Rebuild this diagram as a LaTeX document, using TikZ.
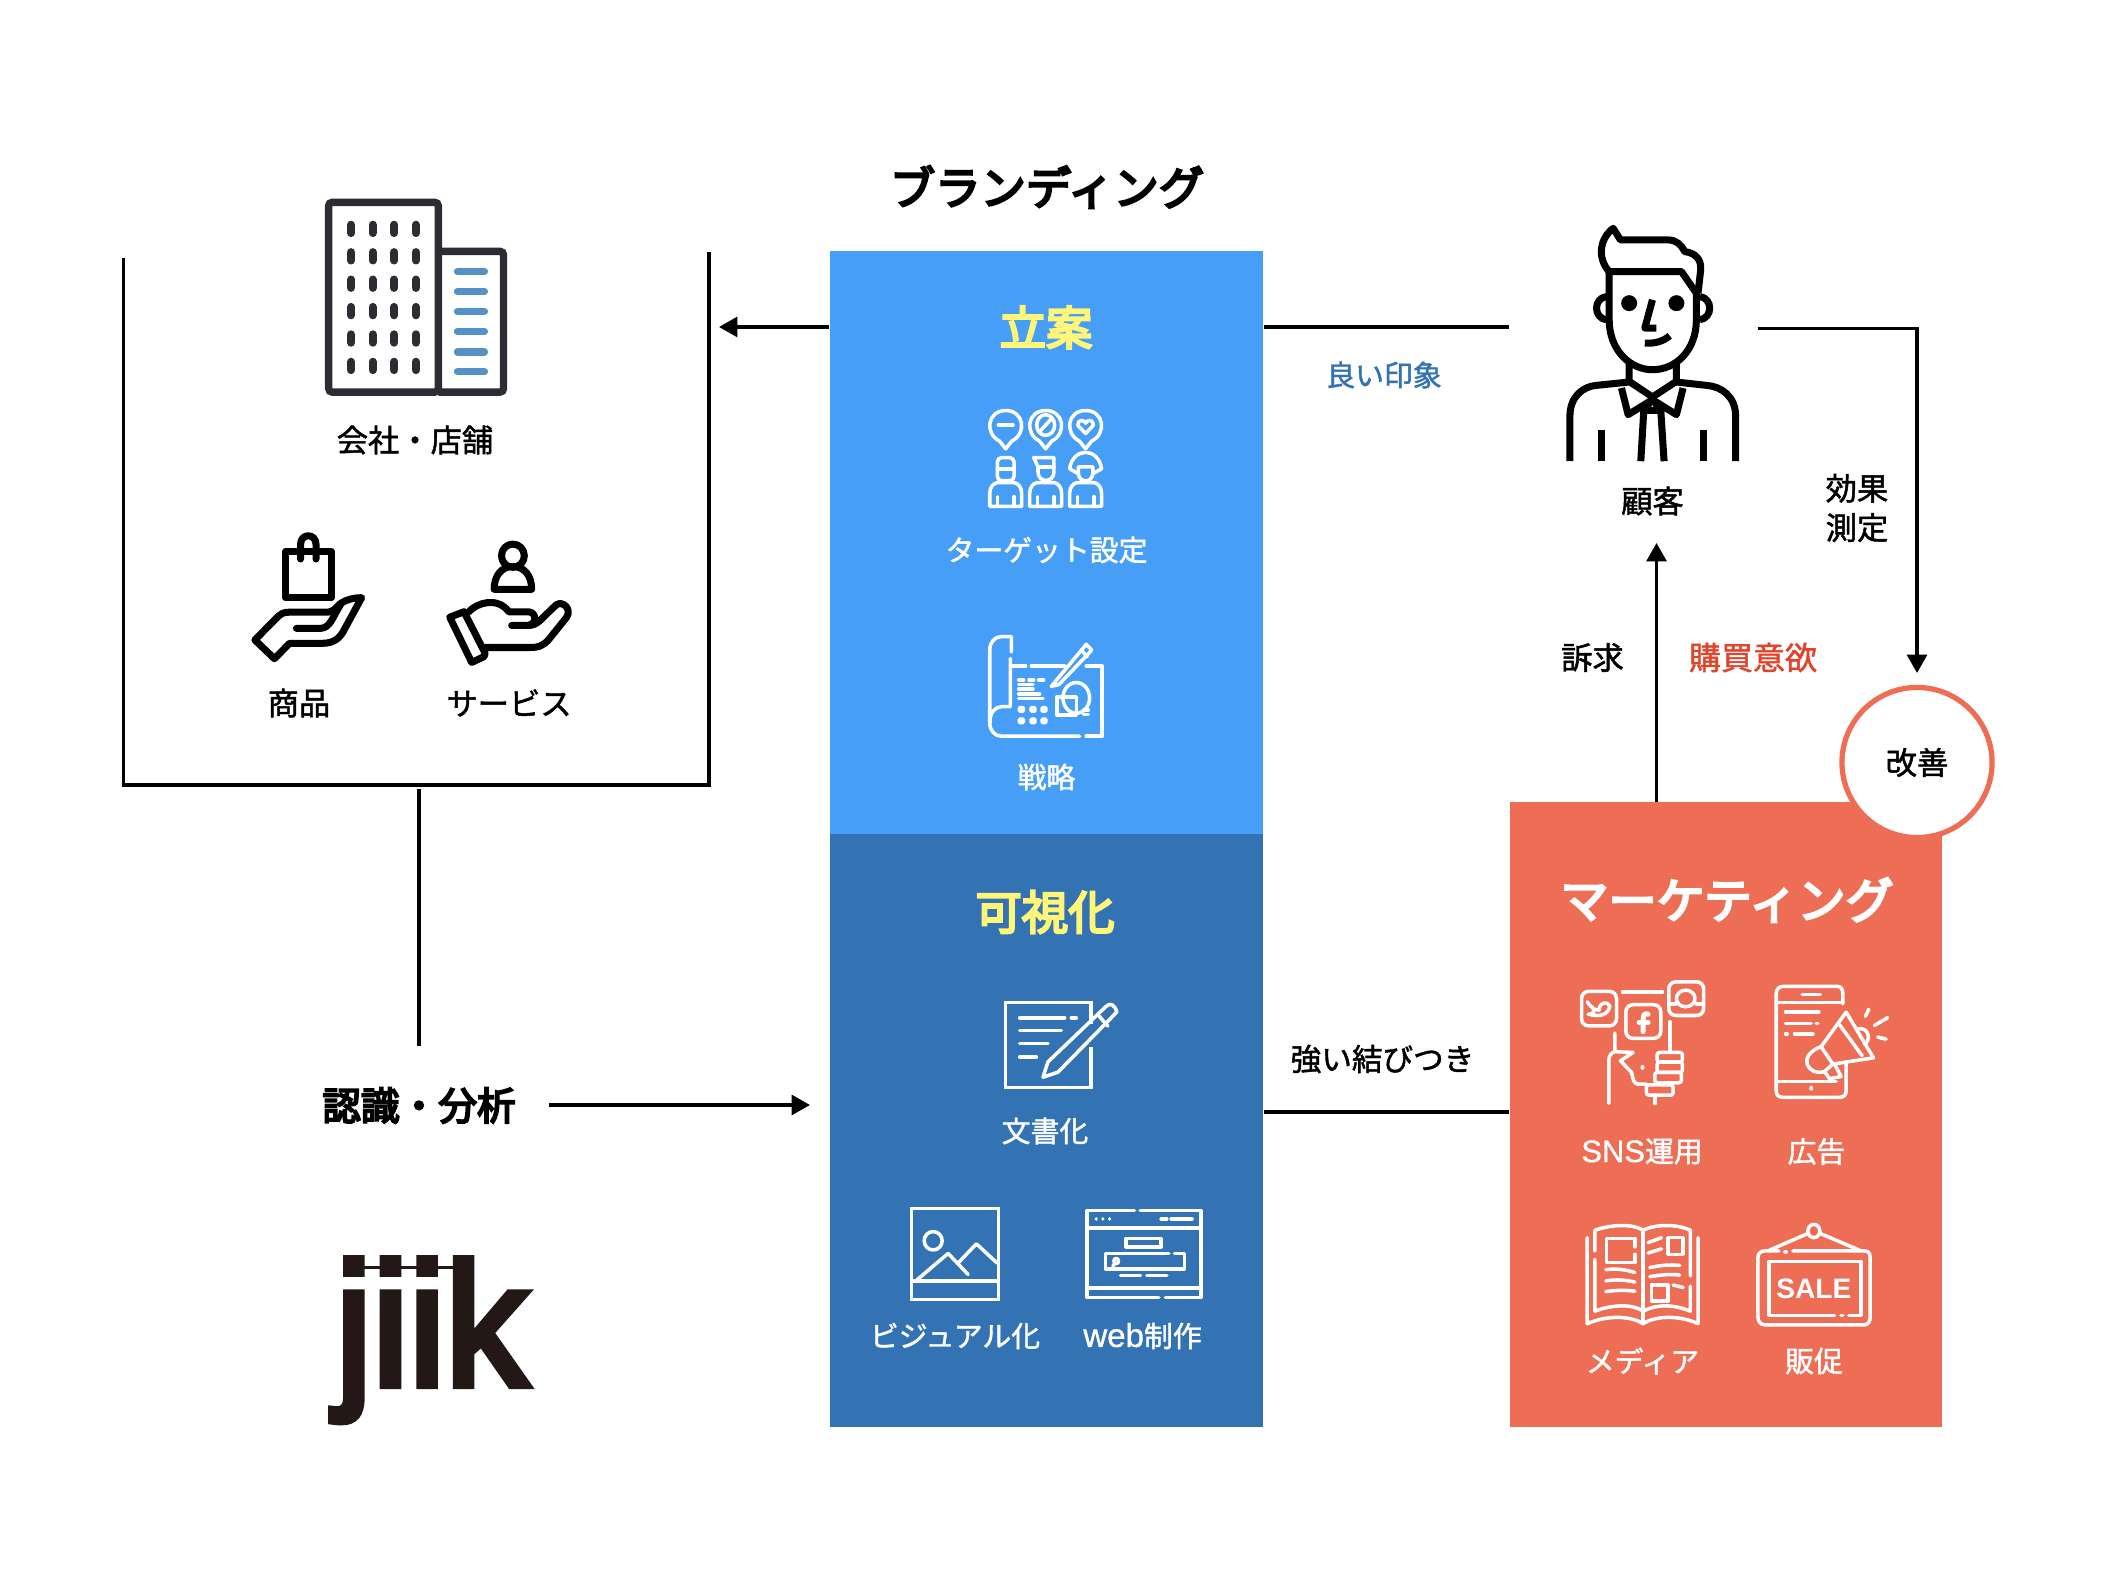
\documentclass[tikz,border=0pt]{standalone}
\usepackage{fontspec}
\setmainfont[FakeBold=1.5]{Noto Sans CJK JP}
\newfontfamily\titlefont[FakeBold=5]{Noto Sans CJK JP}
\newfontfamily\logofont[FakeBold=4,FakeStretch=0.94]{Liberation Sans}
\newfontfamily\signfont{Liberation Sans}
\newfontfamily\latinfont[FakeBold=1]{Liberation Sans}
\usetikzlibrary{arrows.meta}
\definecolor{planblue}{HTML}{479EF7}
\definecolor{showblue}{HTML}{3373B4}
\definecolor{marketred}{HTML}{ED6D55}
\definecolor{headyellow}{HTML}{FFF578}
\definecolor{wantred}{HTML}{E2432B}
\definecolor{barblue}{HTML}{5690C8}
\definecolor{towergray}{HTML}{2C2D33}
\definecolor{logoblack}{HTML}{231815}
\tikzset{
  bandbox/.style={rectangle, inner sep=0pt, draw=none, minimum width=4.33cm},
  bigtitle/.style={font=\fontsize{13.2}{15}\selectfont\titlefont},
  smalltext/.style={font=\fontsize{8.2}{10}\selectfont, text=white},
  blacktext/.style={font=\fontsize{8.9}{11.2}\selectfont, text=black, align=center},
  conn/.style={line width=1pt, draw=black},
  connarrow/.style={conn, -{Triangle[length=5.2pt,width=5.6pt]}},
  iconwhite/.style={draw=white, line width=1pt, line cap=round, line join=round},
  iconblack/.style={draw=black, line width=2pt, line join=round},
  zonea/.style={shift={(100,150)}, x=0.0040816cm, y=-0.004146cm},
  zoneb/.style={shift={(820,240)}, x=0.003333cm, y=-0.003827cm},
  zonec/.style={shift={(820,830)}, x=0.003333cm, y=-0.003827cm},
  zoned/.style={shift={(1500,790)}, x=0.003333cm, y=-0.004146cm},
  zonee/.style={shift={(1500,200)}, x=0.003333cm, y=-0.003333cm}
}
\begin{document}
\begin{tikzpicture}[x=0.01cm, y=-0.01cm]
\useasboundingbox (0,0) rectangle (2113,1583);
\fill[white] (0,0) rectangle (2113,1583);

\node[bandbox, fill=planblue, minimum height=5.83cm] (plan) at (1046.5,542.5) {};
\node[bandbox, fill=showblue, minimum height=5.93cm] (show) at (1046.5,1130.5) {};
\node[bandbox, fill=marketred, minimum width=4.32cm, minimum height=6.25cm] (market) at (1726,1114.5) {};
\node[circle, draw=marketred, line width=1.5pt, fill=white, minimum size=1.5cm, inner sep=0pt, font=\fontsize{8.9}{11}\selectfont] (improve) at (1917,762.5) {\raisebox{-2.2pt}{改善}};

\node[font=\fontsize{12.9}{15}\selectfont\titlefont] (branding) at (1047,187) {ブランディング};
\node[bigtitle, text=headyellow] (plantitle) at (1046,327.5) {立案};
\node[bigtitle, text=headyellow] (showtitle) at (1045,912) {可視化};
\node[bigtitle, text=white, font=\fontsize{13.7}{15}\selectfont\titlefont] (markettitle) at (1727,900) {マーケティング};

\node[smalltext] (target) at (1046.5,550) {ターゲット設定};
\node[smalltext] (strategy) at (1046.5,777) {戦略};
\node[smalltext] (docs) at (1045,1131) {文書化};
\node[smalltext] (visual) at (955,1336) {ビジュアル化};
\node[smalltext] (webmake) at (1142.5,1336) {{\latinfont\fontsize{9.4}{10}\selectfont web}制作};
\node[smalltext] (sns) at (1642,1151.5) {{\latinfont\fontsize{8.8}{10}\selectfont SNS}運用};
\node[smalltext] (ads) at (1816.5,1151.5) {広告};
\node[smalltext] (media) at (1642.5,1361) {メディア};
\node[smalltext] (promo) at (1814,1361) {販促};

\node[blacktext] (company) at (415,440) {会社・店舗};
\node[blacktext] (goods) at (299,703) {商品};
\node[blacktext] (service) at (509,703) {サービス};
\node[blacktext] (customer) at (1652.5,501) {顧客};
\node[blacktext] (measure) at (1857,508) {効果\\測定};
\node[blacktext] (appeal) at (1592.5,657.5) {訴求};
\node[blacktext, text=wantred, font=\fontsize{9.1}{11}\selectfont] (desire) at (1753,657.5) {購買意欲};
\node[blacktext, font=\fontsize{8.7}{11}\selectfont] (bond) at (1382.5,1059) {強い結びつき};
\node[blacktext, text=showblue, font=\fontsize{8.2}{10}\selectfont] (impression) at (1384,375) {良い印象};
\node[font=\fontsize{11}{13}\selectfont\titlefont] (analysis) at (419,1105.5) {認識・分析};

\coordinate (framenw) at (123.7,258);
\coordinate (framesw) at (123.7,785);
\coordinate (framese) at (709,785);
\coordinate (framene) at (709,252);
\coordinate (framefoot) at (419,789);
\coordinate (framearrow) at (719,327);
\coordinate (analysistop) at (419,1046);
\coordinate (analysisout) at (548.5,1105);
\coordinate (showarrow) at (810,1105);
\coordinate (personleft) at (1509,327);
\coordinate (personright) at (1757.5,328.5);
\coordinate (turn) at (1917,328.5);
\coordinate (improvetop) at (1917,673);
\coordinate (personfoot) at (1656.5,543);
\coordinate (marketup) at (1656.5,802);
\coordinate (marketleft) at (1509,1112);

\draw[conn, line width=1pt] (framenw) -- (framesw) -- (framese) -- (framene);
\draw[connarrow] (plan.west |- framearrow) -- (framearrow);
\draw[conn] (plan.east |- personleft) -- (personleft);
\draw[connarrow] (personright) -- (turn) -- (improvetop);
\draw[connarrow] (marketup) -- (personfoot);
\draw[conn] (framefoot) -- (analysistop);
\draw[connarrow] (analysisout) -- (showarrow);
\draw[conn] (show.east |- marketleft) -- (marketleft);

\begin{scope}[zonea]
  \draw[towergray, line width=2.1pt, rounded corners=1pt] (561,126) rectangle (830,583);
  \draw[towergray, line width=2.1pt, rounded corners=1pt] (830,244) -- (990,244) -- (990,583) -- (830,583);
  \foreach \wx in {616,669,722,775}
    \foreach \wy in {190,256,322,388,454,520}
      \draw[towergray, line width=2.3pt, line cap=round] (\wx,\wy-10) -- (\wx,\wy+10);
  \foreach \wy in {293,341,389,437,486,534}
    \draw[barblue, line width=2.1pt, line cap=round] (877,\wy) -- (943,\wy);
  \draw[iconblack] (455,967) rectangle (568,1078);
  \draw[iconblack, line cap=round] (492,985) -- (492,950) .. controls (492,922) and (530,922) .. (530,950) -- (530,985);
  \draw[iconblack] (380,1180) -- (430,1130) .. controls (445,1115) and (450,1113) .. (465,1113) -- (555,1113) .. controls (575,1113) and (580,1100) .. (590,1092) .. controls (605,1082) and (625,1078) .. (642,1078) -- (602,1150) .. controls (590,1175) and (575,1188) .. (545,1188) -- (465,1188) -- (428,1225) -- cycle;
  \draw[iconblack, line cap=round] (482,1152) -- (540,1152) .. controls (565,1152) and (570,1125) .. (590,1095);
  \draw[iconblack] (1013,977) circle[x radius=28, y radius=28];
  \draw[iconblack] (967,1058) .. controls (967,1025) and (985,1003) .. (1013,1003) .. controls (1041,1003) and (1059,1025) .. (1059,1058) -- cycle;
  \draw[iconblack] (858,1125) -- (893,1112) -- (945,1212) -- (942,1220) -- (912,1234) -- cycle;
  \draw[iconblack, line cap=round] (905,1112) .. controls (925,1090) and (975,1075) .. (1003,1112) -- (1050,1112) .. controls (1070,1112) and (1075,1140) .. (1050,1145) -- (1010,1145);
  \draw[iconblack, line cap=round] (1050,1145) .. controls (1075,1145) and (1080,1130) .. (1120,1095) .. controls (1135,1085) and (1158,1105) .. (1145,1125) -- (1100,1180) .. controls (1085,1195) and (1075,1198) .. (1055,1198) -- (945,1198);
\end{scope}

\begin{scope}[zonee]
  \draw[iconblack] (328,215) -- (328,360) .. controls (328,450) and (390,510) .. (458,510) .. controls (530,510) and (590,450) .. (590,360) -- (590,265);
  \draw[iconblack] (328,215) .. controls (295,180) and (295,120) .. (340,85) -- (362,120) -- (505,120) .. controls (530,120) and (545,135) .. (555,155) .. controls (590,160) and (605,180) .. (603,210) -- (595,280);
  \draw[iconblack] (328,215) -- (545,215) -- (590,280);
  \draw[iconblack] (320,290) .. controls (280,295) and (280,355) .. (320,360);
  \draw[iconblack] (600,290) .. controls (640,295) and (640,355) .. (600,360);
  \fill (388,310) circle[radius=24];
  \fill (530,310) circle[radius=24];
  \draw[iconblack] (458,300) -- (435,385) -- (470,385);
  \draw[iconblack] (435,430) .. controls (465,432) and (490,425) .. (510,408);
  \draw[iconblack] (388,490) -- (388,545) -- (458,592) -- (530,545) -- (530,490);
  \draw[iconblack] (210,785) -- (210,650) .. controls (210,590) and (250,560) .. (290,557) -- (388,547);
  \draw[iconblack] (708,785) -- (708,650) .. controls (708,590) and (665,560) .. (620,557) -- (530,547);
  \draw[iconblack] (365,565) -- (385,645) -- (458,600) -- (530,645) -- (550,565);
  \draw[iconblack] (458,600) -- (430,632) -- (485,632) -- (458,600);
  \draw[iconblack] (432,632) -- (423,785);
  \draw[iconblack] (483,632) -- (493,785);
  \draw[iconblack] (304,690) -- (304,785);
  \draw[iconblack] (612,690) -- (612,785);
\end{scope}

\begin{scope}[zoneb]
  \foreach \px in {558,678,798} {
    \draw[iconwhite] (\px-18,525) .. controls (\px-65,505) and (\px-55,445) .. (\px,445) .. controls (\px+55,445) and (\px+65,505) .. (\px+18,525) -- (\px,545) -- cycle;
    \draw[iconwhite] (\px-48,695) -- (\px-48,662) .. controls (\px-48,645) and (\px-38,635) .. (\px-25,633) -- (\px+25,633) .. controls (\px+38,635) and (\px+48,645) .. (\px+48,662) -- (\px+48,695) -- cycle;
    \draw[iconwhite] (\px-25,670) -- (\px-25,695);
    \draw[iconwhite] (\px+25,670) -- (\px+25,695);
  }
  \draw[iconwhite] (536,483) -- (580,483);
  \draw[iconwhite] (678,483) circle[x radius=27, y radius=27];
  \draw[iconwhite] (662,498) -- (694,468);
  \draw[iconwhite] (798,505) -- (775,484) .. controls (775,465) and (795,470) .. (798,478) .. controls (801,470) and (821,465) .. (821,484) -- cycle;
  \draw[iconwhite, rounded corners=1.2pt] (533,568) rectangle (583,628);
  \draw[iconwhite] (533,597) -- (583,597);
  \draw[iconwhite] (642,568) -- (703,568) -- (703,605) .. controls (703,635) and (655,635) .. (655,605) -- (655,592) -- cycle;
  \draw[iconwhite] (655,592) -- (703,592);
  \draw[iconwhite] (750,597) .. controls (760,540) and (836,540) .. (846,597) -- (820,610) -- (820,592) -- (776,592) -- (776,610) -- cycle;
  \draw[iconwhite] (776,610) .. controls (780,635) and (816,635) .. (820,610);

  \draw[iconwhite] (575,1075) -- (575,1035) -- (545,1035) .. controls (525,1035) and (510,1050) .. (510,1070) -- (510,1260) .. controls (510,1280) and (525,1295) .. (545,1295) -- (780,1295);
  \draw[iconwhite] (800,1295) -- (848,1295) -- (848,1112) -- (800,1112);
  \draw[iconwhite] (575,1112) -- (618,1112);
  \draw[iconwhite] (635,1112) -- (735,1112);
  \draw[iconwhite] (572,1092) -- (572,1218) -- (545,1218) .. controls (525,1218) and (510,1235) .. (510,1260);
  \draw[iconwhite] (695,1165) -- (800,1055) -- (817,1070) -- (718,1160) -- (695,1165);
  \draw[iconwhite] (785,1070) -- (803,1088);
  \draw[iconwhite] (597,1148) -- (612,1148);
  \draw[iconwhite] (628,1148) -- (642,1148);
  \draw[iconwhite] (657,1148) -- (672,1148);
  \draw[iconwhite] (597,1160) -- (640,1160);
  \draw[iconwhite] (597,1172) -- (640,1172);
  \draw[iconwhite] (597,1185) -- (660,1185);
  \draw[iconwhite] (597,1197) -- (670,1197);
  \foreach \gx in {605,640,673}
    \foreach \gy in {1225,1255}
      \fill[white, rounded corners=0.5pt] (\gx-11,\gy-9) rectangle (\gx+11,\gy+9);
  \draw[iconwhite] (712,1192) rectangle (770,1240);
  \draw[iconwhite] (770,1195) circle[x radius=40, y radius=40];
  \draw[iconwhite] (792,1227) -- (806,1227);
  \draw[iconwhite] (792,1238) -- (806,1238);
\end{scope}

\begin{scope}[zonec]
  \draw[iconwhite, line cap=butt, line join=miter] (815,505) -- (815,450) -- (558,450) -- (558,672) -- (815,672) -- (815,565);
  \draw[iconwhite] (600,490) -- (735,490);
  \draw[iconwhite] (755,490) -- (770,490);
  \draw[iconwhite] (600,523) -- (725,523);
  \draw[iconwhite] (600,557) -- (685,557);
  \draw[iconwhite] (600,592) -- (650,592);
  \draw[iconwhite] (670,645) -- (685,605) -- (860,460) .. controls (872,450) and (885,455) .. (892,475) -- (715,632) -- cycle;
  \draw[iconwhite] (835,482) -- (865,512);
  \draw[iconwhite, line join=miter] (275,988) rectangle (537,1225);
  \draw[iconwhite] (278,1177) -- (535,1177);
  \draw[iconwhite] (340,1072) circle[x radius=27, y radius=24];
  \draw[iconwhite] (290,1175) -- (385,1105) -- (445,1160);
  \draw[iconwhite] (415,1130) -- (470,1080) -- (532,1130);
  \draw[iconwhite] (945,993) -- (802,993) -- (802,1220) -- (1018,1220);
  \draw[iconwhite] (1038,1220) -- (1145,1220) -- (1145,993) -- (962,993);
  \draw[iconwhite] (802,1038) -- (1145,1038);
  \draw[iconwhite] (802,1195) -- (1145,1195);
  \foreach \dx in {830,850,870}
    \fill[white] (\dx,1015) circle[x radius=5, y radius=5];
  \draw[iconwhite] (1025,1015) -- (1042,1015);
  \draw[iconwhite] (1055,1015) -- (1118,1015);
  \draw[iconwhite] (920,1066) rectangle (1025,1088);
  \draw[iconwhite] (1048,1105) -- (858,1105) -- (858,1145) -- (1095,1145) -- (1095,1105) -- (1065,1105);
  \draw[iconwhite] (890,1125) circle[x radius=7, y radius=7];
  \draw[iconwhite] (885,1132) -- (880,1138);
  \draw[iconwhite] (903,1162) -- (963,1162);
  \draw[iconwhite] (982,1162) -- (1042,1162);
\end{scope}

\begin{scope}[zoned]
  \draw[iconwhite, rounded corners=2pt] (245,485) rectangle (350,568);
  \draw[iconwhite, rounded corners=2pt] (378,517) rectangle (483,598);
  \draw[iconwhite, rounded corners=2pt] (507,462) rectangle (612,543);
  \draw[iconwhite] (368,487) -- (488,487);
  \draw[iconwhite] (262,510) .. controls (275,525) and (285,530) .. (298,530) .. controls (298,510) and (322,508) .. (330,520) .. controls (325,540) and (305,548) .. (265,540) .. controls (280,540) and (285,535) .. (280,530);
  \draw[iconwhite] (558,502) circle[x radius=28, y radius=20];
  \draw[iconwhite] (510,515) -- (528,515);
  \draw[iconwhite] (590,515) -- (610,515);
  \draw[iconwhite, line width=1.4pt] (445,540) .. controls (432,535) and (430,545) .. (430,555) -- (430,582);
  \draw[iconwhite, line width=1.4pt] (418,560) -- (445,560);
  \draw[iconwhite] (345,585) -- (345,630) -- (400,632) -- (362,652) -- (395,680) .. controls (400,695) and (400,705) .. (412,708) -- (440,708);
  \draw[iconwhite] (327,755) -- (327,650) .. controls (327,640) and (335,632) .. (345,630);
  \draw[iconwhite] (510,558) -- (510,628);
  \draw[iconwhite, rounded corners=0.7pt] (472,632) rectangle (548,655);
  \draw[iconwhite, rounded corners=0.7pt] (472,655) rectangle (548,680);
  \draw[iconwhite, rounded corners=0.7pt] (465,680) rectangle (545,705);
  \draw[iconwhite, rounded corners=0.7pt] (440,710) rectangle (520,735);
  \draw[iconwhite] (465,735) -- (465,755);
  \fill[white] (428,668) circle[x radius=6, y radius=6];

  \draw[iconwhite] (1030,515) -- (1030,490) .. controls (1030,480) and (1025,473) .. (1015,473) -- (850,473) .. controls (838,473) and (830,480) .. (830,490) -- (830,725) .. controls (830,735) and (838,740) .. (850,740) -- (1020,740) .. controls (1032,740) and (1040,735) .. (1040,725) -- (1040,660);
  \draw[iconwhite] (830,512) -- (1030,512);
  \draw[iconwhite] (830,702) -- (1010,702);
  \draw[iconwhite] (908,492) -- (962,492);
  \fill[white] (935,718) circle[x radius=6, y radius=6];
  \draw[iconwhite] (858,535) -- (958,535);
  \draw[iconwhite] (858,562) -- (935,562);
  \draw[iconwhite] (950,562) -- (955,562);
  \draw[iconwhite] (858,587) -- (863,587);
  \draw[iconwhite] (885,587) -- (940,587);
  \draw[iconwhite] (965,618) -- (1040,535) -- (1122,645) -- (1000,660) -- (975,678) .. controls (925,690) and (890,640) .. (965,618);
  \draw[iconwhite] (1020,565) -- (1088,640);
  \draw[iconwhite] (965,618) -- (1000,660);
  \draw[iconwhite] (975,678) -- (990,695) -- (1025,690) -- (1005,660);
  \draw[iconwhite] (1075,575) .. controls (1110,570) and (1115,605) .. (1095,612);
  \draw[iconwhite] (1098,545) -- (1108,528);
  \draw[iconwhite] (1125,567) -- (1165,548);
  \draw[iconwhite] (1135,595) -- (1160,600);

  \draw[iconwhite] (262,1078) -- (262,1285) .. controls (320,1265) and (390,1265) .. (430,1285) .. controls (470,1265) and (540,1265) .. (595,1285) -- (595,1078);
  \draw[iconwhite] (285,1130) -- (285,1255) .. controls (340,1238) and (400,1238) .. (430,1255) .. controls (470,1238) and (520,1238) .. (572,1255) -- (572,1195);
  \draw[iconwhite] (285,1110) -- (285,1060) .. controls (340,1045) and (400,1045) .. (430,1060) .. controls (470,1045) and (530,1045) .. (572,1060) -- (572,1170);
  \draw[iconwhite] (430,1060) -- (430,1285);
  \draw[iconwhite] (405,1100) -- (405,1080) -- (320,1080) -- (320,1138) -- (405,1138) -- (405,1118);
  \draw[iconwhite] (318,1155) .. controls (350,1152) and (380,1155) .. (405,1162);
  \draw[iconwhite] (318,1182) .. controls (350,1178) and (380,1180) .. (405,1185);
  \draw[iconwhite] (318,1208) .. controls (350,1204) and (380,1204) .. (405,1207);
  \draw[iconwhite] (445,1090) -- (485,1078);
  \draw[iconwhite] (445,1115) -- (485,1105);
  \draw[iconwhite] (505,1078) rectangle (550,1118);
  \draw[iconwhite] (450,1150) .. controls (480,1145) and (510,1142) .. (540,1145);
  \draw[iconwhite] (450,1172) .. controls (480,1168) and (510,1165) .. (540,1168);
  \draw[iconwhite] (455,1192) rectangle (505,1230);
  \draw[iconwhite] (520,1192) -- (550,1198);

  \draw[iconwhite] (943,1062) circle[x radius=18, y radius=16];
  \draw[iconwhite] (925,1068) -- (810,1108);
  \draw[iconwhite] (962,1068) -- (1080,1108);
  \draw[iconwhite] (880,1110) -- (1095,1110) .. controls (1105,1110) and (1112,1115) .. (1112,1125) -- (1112,1270) .. controls (1112,1280) and (1105,1288) .. (1095,1288) -- (795,1288) .. controls (785,1288) and (775,1280) .. (775,1270) -- (775,1125) .. controls (775,1115) and (785,1110) .. (795,1110) -- (838,1110);
  \draw[iconwhite] (856,1112) -- (860,1112);
  \draw[iconwhite] (1005,1265) -- (808,1265) -- (808,1135) -- (1085,1135) -- (1085,1265) -- (1048,1265);
  \draw[iconwhite] (1025,1265) -- (1030,1265);
  \node[text=white, font=\fontsize{8}{10}\selectfont\signfont\bfseries] (salesign) at (943,1200) {SALE};
\end{scope}

\node[anchor=base west, inner sep=0pt, text=logoblack, font=\fontsize{49.8}{55}\selectfont\logofont] (logo) at (335,1385.5) {jiik};
\coordinate (logodotj) at (359,1267.7);
\coordinate (logodotk) at (467,1267.7);
\draw[logoblack, line width=0.7pt] (logodotj) -- (logodotk);
\end{tikzpicture}
\end{document}
